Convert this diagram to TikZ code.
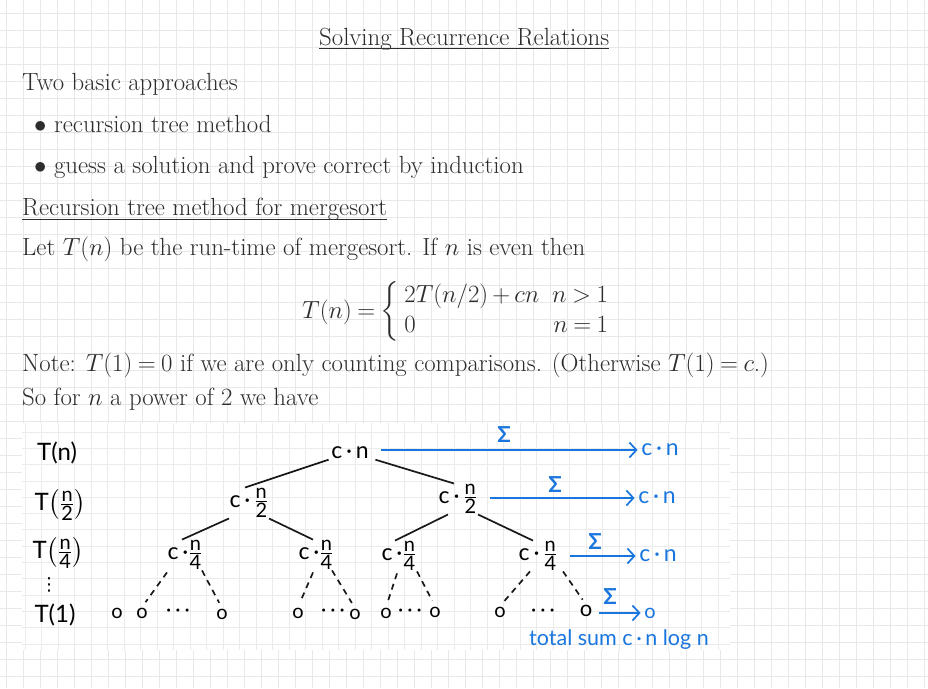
\RequirePackage{fix-cm}
\documentclass[tikz,border=0pt]{standalone}
\usepackage{amsmath}
\usepackage{graphicx}
\usepackage{fontspec}
\newfontfamily\hand{Lato}
\newfontfamily\dv{DejaVu Sans}
\usetikzlibrary{arrows.meta}
\definecolor{hblue}{RGB}{25,118,222}
\definecolor{gridc}{RGB}{232,232,232}
\definecolor{ink}{RGB}{45,45,45}
\newcommand{\hf}[2]{\ensuremath{\frac{\text{\fontsize{20}{20}\selectfont #1}}{\text{\fontsize{20}{20}\selectfont #2}}}}
\newcommand{\tightmath}{\thickmuskip=4mu plus 1mu\medmuskip=3mu plus 1mu}
\newcommand{\leafdots}{·\hspace{4pt}·\hspace{4pt}·}
\begin{document}
\begin{tikzpicture}[x=1pt,y=-1pt,
  txt/.style={anchor=base west,inner sep=0pt,font=\fontsize{24.8}{30}\selectfont\tightmath,text=ink},
  hw/.style={inner sep=0.5pt,font=\hand\fontsize{23}{27}\selectfont},
  lab/.style={hw,font=\hand\fontsize{24}{28}\selectfont},
  leaf/.style={hw,font=\hand\fontsize{20}{24}\selectfont},
  bhw/.style={hw,text=hblue},
  sig/.style={inner sep=0pt,font=\hand\bfseries\fontsize{22}{24}\selectfont,text=hblue},
  edge/.style={line width=1.7pt,black!90},
  dedge/.style={edge,dash pattern=on 6pt off 5pt,shorten >=6pt},
  sumarrow/.style={line width=1.7pt,hblue,shorten <=12pt,shorten >=3pt,-{Straight Barb[length=7pt,width=15pt,line width=1.7pt]}}
]
\useasboundingbox (0,0) rectangle (928,688);
\fill[white] (0,0) rectangle (928,688);
\foreach \i in {0,...,54} \draw[gridc,line width=0.8pt] ({6.3+17*\i},0) -- ({6.3+17*\i},688);
\foreach \j in {0,...,40} \draw[gridc,line width=0.8pt] (0,{13.3+17*\j}) -- (928,{13.3+17*\j});
% inner pasted region
\fill[white] (22,423) rectangle (730,650);
\begin{scope}
\clip (22,423) rectangle (730,650);
\foreach \i in {0,...,43} \draw[gridc!85,line width=0.8pt] ({25+16.5*\i},423) -- ++(0,227);
\foreach \j in {-1,...,14} \draw[gridc!85,line width=0.8pt] (22,{432+16.3*\j}) -- ++(708,0);
\end{scope}

% typed text
\node[txt] (title) at (319,45) {Solving Recurrence Relations};
\draw[ink,line width=0.8pt] ([yshift=-3.5pt]title.base west) -- ([yshift=-3.5pt]title.base east);
\node[txt] (two) at (22,90) {Two basic approaches};
\node[txt] (b1) at (34,132) {$\bullet$ recursion tree method};
\node[txt] (b2) at (34,173) {$\bullet$ guess a solution and prove correct by induction};
\node[txt] (head) at (22,215) {Recursion tree method for mergesort};
\draw[ink,line width=0.8pt] ([yshift=-4pt]head.base west) -- ([yshift=-4pt]head.base east);
\node[txt] (let) at (22,255) {Let $T(n)$ be the run-time of mergesort. If $n$ is even then};
\node[txt] (eq) at (302,318) {$T(n)=\left\{\begin{array}{@{\hspace{5pt}}l@{\hspace{13pt}}r@{}}2T(n/2)+cn & n>1\\ 0 & n=1\end{array}\right.$};
\node[txt] (note) at (22,371) {Note: $T(1)=0$ if we are only counting comparisons. (Otherwise $T(1)=c$.)};
\node[txt] (so) at (22,405) {So for $n$ a power of 2 we have};

% handwritten level labels
\node[lab] (Tn) at (57,453) {T(n)};
\node[lab] (Tn2) at (60,505) {T$\left(\hf{n}{2}\right)$};
\node[lab] (Tn4) at (58,553) {T$\left(\hf{n}{4}\right)$};
\node[inner sep=0pt,font=\dv\fontsize{18}{20}\selectfont] (vd) at (49,585) {⋮};
\node[lab] (T1) at (55,615) {T(1)};

% tree nodes
\node[hw] (root) at (350,453) {c\,·\,n};
\node[hw] (l2) at (249,503) {c\,·\,\hf{n}{2}};
\node[hw] (r2) at (458,499) {c\,·\,\hf{n}{2}};
\node[hw] (LL) at (185,555) {c\,·\hf{n}{4}};
\node[hw] (LR) at (316,555) {c\,·\hf{n}{4}};
\node[hw] (RL) at (399,556) {c\,·\hf{n}{4}};
\node[hw] (RR) at (538,556) {c\,·\,\hf{n}{4}};

% leaves
\node[leaf] (a1) at (117,613) {o};
\node[leaf] (a2) at (142,613) {o};
\node[leaf] (ad) at (178,613) {\leafdots};
\node[leaf] (a3) at (222,614) {o};
\node[leaf] (c1) at (298,613) {o};
\node[leaf] (cd) at (333,613) {\leafdots};
\node[leaf] (c2) at (355,614) {o};
\node[leaf] (e1) at (386,613) {o};
\node[leaf] (ed) at (410,613) {\leafdots};
\node[leaf] (e2) at (435,612) {o};
\node[leaf] (g1) at (500,612) {o};
\node[leaf] (gd) at (543,613) {\leafdots};
\node[leaf,font=\hand\fontsize{22}{24}\selectfont] (g2) at (586,611) {o};

% tree edges
\draw[edge] ([xshift=-2pt]root.south west) -- ([xshift=-4pt]l2.north);
\draw[edge] ([xshift=6pt]root.south east) -- ([xshift=-4pt]r2.north);
\draw[edge] (l2.south west) -- ([xshift=-3pt]LL.north);
\draw[edge] (l2.south east) -- ([xshift=-3pt]LR.north);
\draw[edge] ([xshift=10pt]r2.south west) -- ([xshift=-4pt]RL.north);
\draw[edge] (r2.south east) -- ([xshift=-5pt]RR.north);
\draw[dedge] ([xshift=-18pt,yshift=-2pt]LL.south) -- (a2.north);
\draw[dedge] ([xshift=17pt]LL.south) -- (a3.north);
\draw[dedge] ([xshift=-3pt,yshift=-2pt]LR.south) -- (c1.north);
\draw[dedge] ([xshift=16pt]LR.south) -- (c2.north);
\draw[dedge] ([xshift=-2pt,yshift=-2pt]RL.south) -- (e1.north);
\draw[dedge] ([xshift=18pt]RL.south) -- (e2.north);
\draw[dedge] ([xshift=-8pt]RR.south) -- (g1.north);
\draw[dedge] ([xshift=25pt]RR.south) -- (g2.north);

% blue sums
\node[bhw] (s1) at (660,450) {c\,·\,n};
\node[bhw] (s2) at (657,498) {c\,·\,n};
\node[bhw] (s3) at (658,556) {c\,·\,n};
\node[leaf,text=hblue] (s4) at (650,613) {o};
\draw[sumarrow] (root.east |- s1.west) -- (s1.west);
\draw[sumarrow] (r2.east |- s2.west) -- (s2.west);
\draw[sumarrow] (RR.east |- s3.west) -- (s3.west);
\draw[sumarrow,shorten <=6pt] (g2.east |- s4.west) -- (s4.west);
\node[sig] (sg1) at (504,435) {Σ};
\node[sig] (sg2) at (555,485) {Σ};
\node[sig] (sg3) at (595,542) {Σ};
\node[sig] (sg4) at (610,597) {Σ};
\node[bhw,font=\hand\fontsize{21.5}{24}\selectfont] (total) at (619,640) {total sum c\,·\,n log n};
\end{tikzpicture}
\end{document}
